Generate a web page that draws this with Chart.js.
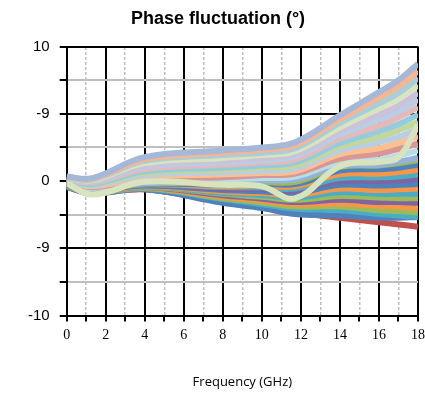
<!DOCTYPE html>
<html>
<head>
<meta charset="utf-8">
<script src="https://cdn.jsdelivr.net/npm/chart.js@4"></script>
<style>
  body { margin: 0; background: #fff; }
  #wrap { width: 425px; height: 394px; }
</style>
</head>
<body>
<div id="wrap"><canvas id="phaseChart"></canvas></div>
<script>
// frequency points (GHz) where each curve was read
const freqs = [0, 1.3, 4, 8, 10, 11.7, 14, 16, 17, 18];

// y axis runs -18..18, labelled as in the original figure
const yTickLabels = ['-10', '', '-9', '', '0', '', '-9', '', '10'];

// upper (light) group of curves, top to bottom
const phase01 = [0.6, 0.4, 3.2, 4.1, 4.5, 5.2, 8.8, 11.9, 13.5, 15.7];
const phase02 = [0.55, 0.3, 2.9, 3.8, 4.2, 4.8, 8.3, 11.2, 12.7, 14.7];
const phase03 = [0.5, 0.2, 2.7, 3.5, 3.8, 4.4, 7.8, 10.4, 11.8, 13.8];
const phase04 = [0.45, 0.1, 2.4, 3.1, 3.5, 4.0, 7.2, 9.7, 11.0, 12.8];
const phase05 = [0.4, 0.0, 2.1, 2.8, 3.1, 3.7, 6.7, 8.9, 10.1, 11.8];
const phase06 = [0.35, -0.1, 1.9, 2.5, 2.8, 3.3, 6.2, 8.2, 9.3, 10.9];
const phase07 = [0.3, -0.2, 1.6, 2.2, 2.5, 2.9, 5.7, 7.4, 8.5, 9.9];
const phase08 = [0.2, -0.4, 1.3, 1.8, 2.1, 2.5, 5.1, 6.7, 7.6, 8.9];
const phase09 = [0.15, -0.5, 1.1, 1.5, 1.8, 2.1, 4.6, 5.9, 6.8, 7.9];
const phase10 = [0.1, -0.6, 0.8, 1.2, 1.4, 1.7, 4.1, 5.2, 5.9, 7.0];
const phase11 = [0.05, -0.7, 0.5, 0.9, 1.1, 1.3, 3.6, 4.4, 5.1, 6.0];
const phase12 = [0.0, -0.8, 0.3, 0.5, 0.8, 1.0, 3.0, 3.7, 4.3, 5.0];
const phase13 = [-0.1, -0.9, 0.0, 0.2, 0.4, 0.6, 2.5, 2.9, 3.4, 4.1];
const phase14 = [-0.2, -1.0, -0.3, -0.1, 0.1, 0.2, 2.0, 2.2, 2.6, 3.1];

// lower (dark) group of curves, top to bottom
const phase15 = [-0.2, -1.0, -0.3, -0.3, -0.1, -0.1, 1.9, 2.1, 2.4, 2.8];
const phase16 = [-0.25, -1.05, -0.35, -0.5, -0.35, -0.4, 1.4, 1.6, 1.8, 2.2];
const phase17 = [-0.3, -1.1, -0.4, -0.7, -0.6, -0.7, 0.9, 1.0, 1.2, 1.5];
const phase18 = [-0.35, -1.15, -0.45, -0.8, -0.85, -1.0, 0.4, 0.5, 0.6, 0.9];
const phase19 = [-0.4, -1.2, -0.5, -1.0, -1.1, -1.3, 0.0, 0.0, 0.1, 0.3];
const phase20 = [-0.4, -1.2, -0.6, -1.2, -1.35, -1.6, -0.5, -0.6, -0.5, -0.4];
const phase21 = [-0.45, -1.25, -0.65, -1.4, -1.6, -1.9, -1.0, -1.2, -1.1, -1.0];
const phase22 = [-0.5, -1.3, -0.7, -1.6, -1.85, -2.2, -1.5, -1.7, -1.7, -1.7];
const phase23 = [-0.55, -1.35, -0.75, -1.7, -2.1, -2.5, -2.0, -2.2, -2.3, -2.3];
const phase24 = [-0.6, -1.4, -0.8, -1.9, -2.35, -2.8, -2.5, -2.8, -2.8, -2.9];
const phase25 = [-0.6, -1.4, -0.85, -2.1, -2.6, -3.1, -3.0, -3.3, -3.4, -3.6];
const phase26 = [-0.65, -1.45, -0.9, -2.3, -2.85, -3.4, -3.4, -3.9, -4.0, -4.2];
const phase27 = [-0.7, -1.5, -1.0, -2.4, -3.1, -3.7, -3.9, -4.4, -4.6, -4.8];
const phase28 = [-0.8, -1.6, -1.1, -2.9, -3.6, -4.4, -4.6, -4.9, -4.9, -4.8];
const phase29 = [-0.8, -1.6, -1.1, -2.8, -3.5, -4.2, -4.9, -5.5, -5.8, -6.1];

// the pale curve with the dip near 12 GHz
const phase30 = [-0.3, -1.8, -0.1, -0.5, -0.7, -2.3, 2.0, 2.6, 3.2, 7.5];

const allPhases = [
    phase29, phase28, phase27, phase26, phase25, phase24, phase23, phase22,
    phase21, phase20, phase19, phase18, phase17, phase16, phase15,
    phase14, phase13, phase12, phase11, phase10, phase09, phase08,
    phase07, phase06, phase05, phase04, phase03, phase02, phase01, phase30
];
const lineColors = [
    '#C0504D', '#4F81BD', '#4BACC6', '#9BBB59', '#F79646', '#8064A2', '#9BBB59', '#4BACC6',
    '#F79646', '#4F81BD', '#8064A2', '#4BACC6', '#F79646', '#4F81BD', '#9BBB59',
    '#95B3D7', '#B7DEE8', '#D99694', '#FAC090', '#B9CDE5', '#C3D69B', '#93CDDD',
    '#E6B9B8', '#B9CDE5', '#CCC1DA', '#D7E4BD', '#A8CEDB', '#F9B590', '#A5B8D7', '#D7E4BD'
];

const datasets = allPhases.map((vals, i) => ({
    data: vals.map((v, j) => ({ x: freqs[j], y: v })),
    borderColor: lineColors[i],
    borderWidth: 6,
    pointRadius: 0,
    tension: 0.4,
    fill: false,
    order: allPhases.length - i
}));

const ctx = document.getElementById('phaseChart').getContext('2d');
new Chart(ctx, {
    type: 'line',
    data: { datasets: datasets },
    options: {
        responsive: true,
        maintainAspectRatio: false,
        animation: false,
        layout: { padding: { left: 18, right: 7, top: 0, bottom: 4 } },
        plugins: {
            legend: { display: false },
            tooltip: { enabled: false },
            title: {
                display: true,
                text: 'Phase fluctuation (°)',
                color: '#000',
                font: { family: 'Liberation Sans', size: 18, weight: 'bold' },
                padding: { top: 8, bottom: 17 }
            }
        },
        scales: {
            x: {
                type: 'linear',
                min: 0,
                max: 18,
                // let the "18" label run into the right margin like the original
                afterFit: (scale) => { scale.paddingRight = 0; },
                ticks: {
                    stepSize: 1,
                    autoSkip: false,
                    maxRotation: 0,
                    color: '#000',
                    padding: 5,
                    font: { family: 'Liberation Serif', size: 14 },
                    callback: (v) => (v % 2 === 0 ? String(v) : '')
                },
                grid: {
                    color: (c) => (c.tick && c.tick.value % 2 === 0 ? '#000' : 'rgba(0,0,0,0)'),
                    lineWidth: 2,
                    tickColor: '#000',
                    tickWidth: 2,
                    tickLength: 6
                },
                border: { color: '#000', width: 2 },
                title: {
                    display: true,
                    text: 'Frequency (GHz)',
                    color: '#000',
                    font: { family: 'Open Sans', size: 13 },
                    padding: { top: 26, bottom: 0 }
                }
            },
            x2: {
                type: 'linear',
                position: 'top',
                min: 0,
                max: 18,
                ticks: { stepSize: 1, display: false },
                grid: {
                    color: (c) => (c.tick && c.tick.value % 2 !== 0 ? '#BFBFBF' : 'rgba(0,0,0,0)'),
                    lineWidth: 1.5,
                    drawTicks: false
                },
                border: { display: false, dash: [3, 2] }
            },
            y: {
                min: -18,
                max: 18,
                ticks: {
                    stepSize: 4.5,
                    autoSkip: false,
                    color: '#000',
                    padding: 10,
                    font: { family: 'Liberation Sans', size: 15 },
                    callback: (v, i) => yTickLabels[i]
                },
                grid: {
                    color: (c) => (c.tick && c.tick.value % 9 === 0 ? '#000' : '#BFBFBF'),
                    lineWidth: 2,
                    tickColor: '#000',
                    tickWidth: 2,
                    tickLength: 7
                },
                border: { color: '#000', width: 2 }
            }
        }
    }
});
</script>
</body>
</html>
